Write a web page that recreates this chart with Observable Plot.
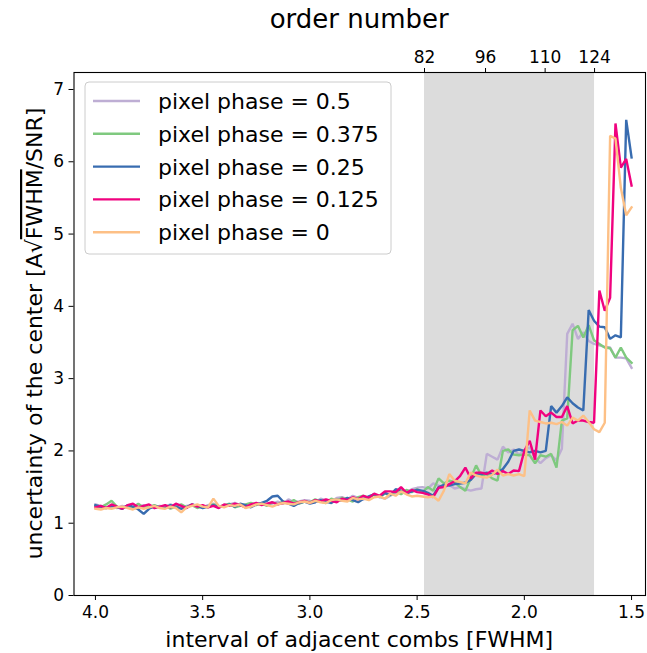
<!DOCTYPE html>
<html><head><meta charset="utf-8">
<script src="https://cdn.jsdelivr.net/npm/d3@7"></script>
<script src="https://cdn.jsdelivr.net/npm/@observablehq/plot@0.6"></script>
<style>html,body{margin:0;padding:0;background:#fff;} #chart{width:647px;height:653px;overflow:hidden}</style>
</head><body><div id="chart"></div>
<script>
// interval of adjacent combs [FWHM]
const xs = [4,3.975,3.95,3.925,3.9,3.875,3.85,3.825,3.8,3.775,
3.75,3.725,3.7,3.675,3.65,3.625,3.6,3.575,3.55,3.525,
3.5,3.475,3.45,3.425,3.4,3.375,3.35,3.325,3.3,3.275,
3.25,3.225,3.2,3.175,3.15,3.125,3.1,3.075,3.05,3.025,
3,2.975,2.95,2.925,2.9,2.875,2.85,2.825,2.8,2.775,
2.75,2.725,2.7,2.675,2.65,2.625,2.6,2.575,2.55,2.525,
2.5,2.475,2.45,2.425,2.4,2.375,2.35,2.325,2.3,2.275,
2.25,2.225,2.2,2.175,2.15,2.125,2.1,2.075,2.05,2.025,
2,1.975,1.95,1.925,1.9,1.875,1.85,1.825,1.8,1.775,
1.75,1.725,1.7,1.675,1.65,1.625,1.6,1.575,1.55,1.525,
1.5];

const phase0500 = [1.26,1.24,1.22,1.23,1.21,1.24,1.22,1.20,1.23,1.25,
1.22,1.21,1.24,1.23,1.26,1.22,1.20,1.24,1.25,1.23,
1.22,1.25,1.27,1.24,1.23,1.26,1.28,1.25,1.24,1.27,
1.26,1.28,1.25,1.27,1.30,1.27,1.33,1.29,1.30,1.32,
1.31,1.29,1.34,1.32,1.30,1.35,1.36,1.33,1.38,1.35,
1.33,1.37,1.40,1.36,1.34,1.38,1.42,1.45,1.43,1.47,
1.49,
1.50,1.48,1.55,1.52,1.50,1.53,1.48,1.50,1.47,1.45,
1.47,1.48,1.96,1.92,1.88,2.06,1.98,2.02,1.95,2.00,
2.05,1.90,1.83,1.90,1.94,1.87,2.03,3.62,3.76,3.55,
3.64,3.52,3.48,3.46,3.44,3.43,3.29,3.29,3.28,3.15];

const phase0375 = [1.24,1.22,1.26,1.31,1.23,1.20,1.24,1.22,1.27,1.21,
1.23,1.25,1.22,1.24,1.20,1.23,1.26,1.22,1.25,1.21,
1.24,1.22,1.26,1.23,1.25,1.27,1.22,1.24,1.26,1.28,
1.25,1.27,1.24,1.29,1.26,1.30,1.28,1.32,1.27,1.30,
1.29,1.33,1.30,1.28,1.34,1.31,1.35,1.33,1.30,1.36,
1.38,1.35,1.40,1.37,1.41,1.39,1.44,1.40,1.46,1.43,
1.47,
1.43,1.50,1.45,1.62,1.55,1.59,1.57,1.50,1.45,1.62,
1.80,1.66,1.68,1.62,1.59,2.00,2.02,1.95,1.94,1.95,
1.94,1.83,1.94,1.92,1.96,1.77,2.42,2.45,3.67,3.73,
3.57,3.74,3.53,3.48,3.43,3.42,3.29,3.43,3.29,3.22];

const phase0250 = [1.25,1.23,1.21,1.24,1.22,1.20,1.25,1.23,1.19,1.13,
1.20,1.24,1.22,1.21,1.25,1.23,1.20,1.22,1.26,1.24,
1.21,1.23,1.25,1.22,1.24,1.26,1.23,1.27,1.25,1.22,
1.26,1.28,1.31,1.37,1.38,1.30,1.27,1.24,1.28,1.30,
1.27,1.29,1.32,1.30,1.28,1.33,1.31,1.35,1.32,1.29,
1.34,1.37,1.40,1.36,1.42,1.39,1.47,1.45,1.41,1.44,
1.46,
1.45,1.42,1.38,1.50,1.53,1.52,1.54,1.55,1.56,1.60,
1.68,1.68,1.70,1.68,1.70,1.75,1.85,2.00,2.02,2.00,
1.98,2.00,1.98,2.00,2.62,2.53,2.62,2.74,2.66,2.60,
2.56,3.95,3.80,3.72,3.71,3.55,3.60,3.57,6.58,6.06];

const phase0125 = [1.22,1.24,1.21,1.26,1.23,1.20,1.25,1.27,1.22,1.24,
1.26,1.21,1.23,1.25,1.22,1.27,1.24,1.21,1.26,1.23,
1.25,1.22,1.24,1.21,1.26,1.24,1.27,1.25,1.22,1.26,
1.28,1.25,1.27,1.29,1.26,1.28,1.30,1.27,1.29,1.31,
1.28,1.32,1.30,1.33,1.31,1.29,1.34,1.32,1.36,1.33,
1.38,1.35,1.41,1.38,1.44,1.44,1.43,1.50,1.42,1.46,
1.43,
1.42,1.40,1.36,1.49,1.50,1.54,1.58,1.65,1.77,1.62,
1.70,1.70,1.68,1.73,1.68,1.72,1.68,1.73,1.72,2.00,
2.14,1.88,2.56,2.48,2.53,2.47,2.47,2.62,2.38,2.42,
2.42,2.40,2.39,4.22,3.94,4.12,6.53,5.92,6.04,5.67];

const phase0000 = [1.20,1.19,1.21,1.20,1.22,1.23,1.21,1.19,1.22,1.20,
1.22,1.24,1.21,1.20,1.23,1.21,1.15,1.22,1.24,1.26,
1.23,1.22,1.34,1.24,1.22,1.25,1.24,1.26,1.21,1.23,
1.26,1.27,1.25,1.23,1.26,1.28,1.27,1.26,1.29,1.30,
1.28,1.31,1.29,1.28,1.32,1.33,1.31,1.30,1.35,1.33,
1.34,1.32,1.36,1.37,1.34,1.41,1.38,1.44,1.40,1.37,
1.38,
1.37,1.36,1.37,1.31,1.45,1.68,1.59,1.57,1.55,1.70,
1.66,1.64,1.63,1.67,1.74,1.66,1.68,1.66,1.68,1.65,
2.56,2.42,2.40,2.38,2.39,2.37,2.40,2.35,2.46,2.42,
2.49,2.40,2.30,2.26,2.39,6.36,6.32,5.64,5.26,5.37];

const seriesNames = ["pixel phase = 0.5","pixel phase = 0.375","pixel phase = 0.25","pixel phase = 0.125","pixel phase = 0"];
const seriesColors = ["#beaed4","#7fc97f","#386cb0","#f0027f","#fdc086"];
const seriesValues = [phase0500, phase0375, phase0250, phase0125, phase0000];

const xTicks = [4.0,3.5,3.0,2.5,2.0,1.5];
const yTicks = [0,1,2,3,4,5,6,7];
const orderLabels = ["82","96","110","124"];
const orderTickX = [2.4655,2.181,1.903,1.6726];
const xDomain = [4.1,1.435];
const yDomain = [0,7.235];

const W = 647, H = 653, mL = 73.5, mR = 2, mT = 72, mB = 58;
const FONT = "DejaVu Sans";

const orderMap = new Map(orderTickX.map((x,i)=>[x, orderLabels[i]]));
const band = [{x1: orderTickX[0], x2: orderTickX[3], y1: yDomain[0], y2: yDomain[1]}];

const plot = Plot.plot({
  width: W, height: H,
  marginLeft: mL, marginRight: mR, marginTop: mT, marginBottom: mB,
  style: {fontFamily: FONT, fontSize: "17px", color: "black", background: "white"},
  x: {domain: xDomain},
  y: {domain: yDomain},
  marks: [
    Plot.rect(band, {x1: "x1", x2: "x2", y1: "y1", y2: "y2", fill: "#dcdcdc"}),
    ...seriesValues.map((vals, k) => Plot.line(xs.map((x, i) => ({x, y: vals[i]})),
      {x: "x", y: "y", stroke: seriesColors[k], strokeWidth: 2.4, strokeLinejoin: "miter", strokeLinecap: "square"})),
    Plot.frame({stroke: "black", strokeWidth: 1.1}),
    Plot.axisX({ticks: xTicks, tickFormat: d3.format(".1f"), tickSize: 5, tickPadding: 5, label: null, fontSize: 17}),
    Plot.axisX({anchor: "top", ticks: orderTickX, tickFormat: d => orderMap.get(d), tickSize: 5, tickPadding: 5, label: null, fontSize: 17}),
    Plot.axisY({ticks: yTicks, tickSize: 5, tickPadding: 5, label: null, fontSize: 17})
  ]
});

const svg = d3.select(plot);
const cx = mL + (W - mL - mR) / 2;

svg.append("text").attr("x", cx).attr("y", 28).attr("text-anchor", "middle")
  .style("font-family", FONT).style("font-size", "26px").attr("fill", "black").text("order number");

svg.append("text").attr("x", cx).attr("y", 647).attr("text-anchor", "middle")
  .style("font-family", FONT).style("font-size", "22px").attr("fill", "black").text("interval of adjacent combs [FWHM]");

const yl = svg.append("text").attr("transform", `translate(42,${(mT + H - mB) / 2}) rotate(-90)`)
  .attr("text-anchor", "middle").style("font-family", FONT).style("font-size", "22px").attr("fill", "black");
yl.append("tspan").text("uncertainty of the center [A\u221A");
yl.append("tspan").style("text-decoration", "overline").text("FWHM");
yl.append("tspan").text("/SNR]");

// legend
const lg = svg.append("g").attr("text-anchor", "start");
lg.append("rect").attr("x", 85).attr("y", 82).attr("width", 306).attr("height", 172).attr("rx", 4)
  .attr("fill", "white").attr("fill-opacity", 0.8).attr("stroke", "#cccccc").attr("stroke-width", 1);
seriesNames.forEach((name, k) => {
  const yy = 101 + k * 32.8;
  lg.append("line").attr("x1", 93).attr("x2", 140).attr("y1", yy).attr("y2", yy)
    .attr("stroke", seriesColors[k]).attr("stroke-width", 2.4);
  lg.append("text").attr("x", 158).attr("y", yy + 8).attr("text-anchor", "start")
    .style("font-family", FONT).style("font-size", "22px")
    .attr("fill", "black").text(name);
});

document.getElementById("chart").appendChild(plot);
</script>
</body></html>
